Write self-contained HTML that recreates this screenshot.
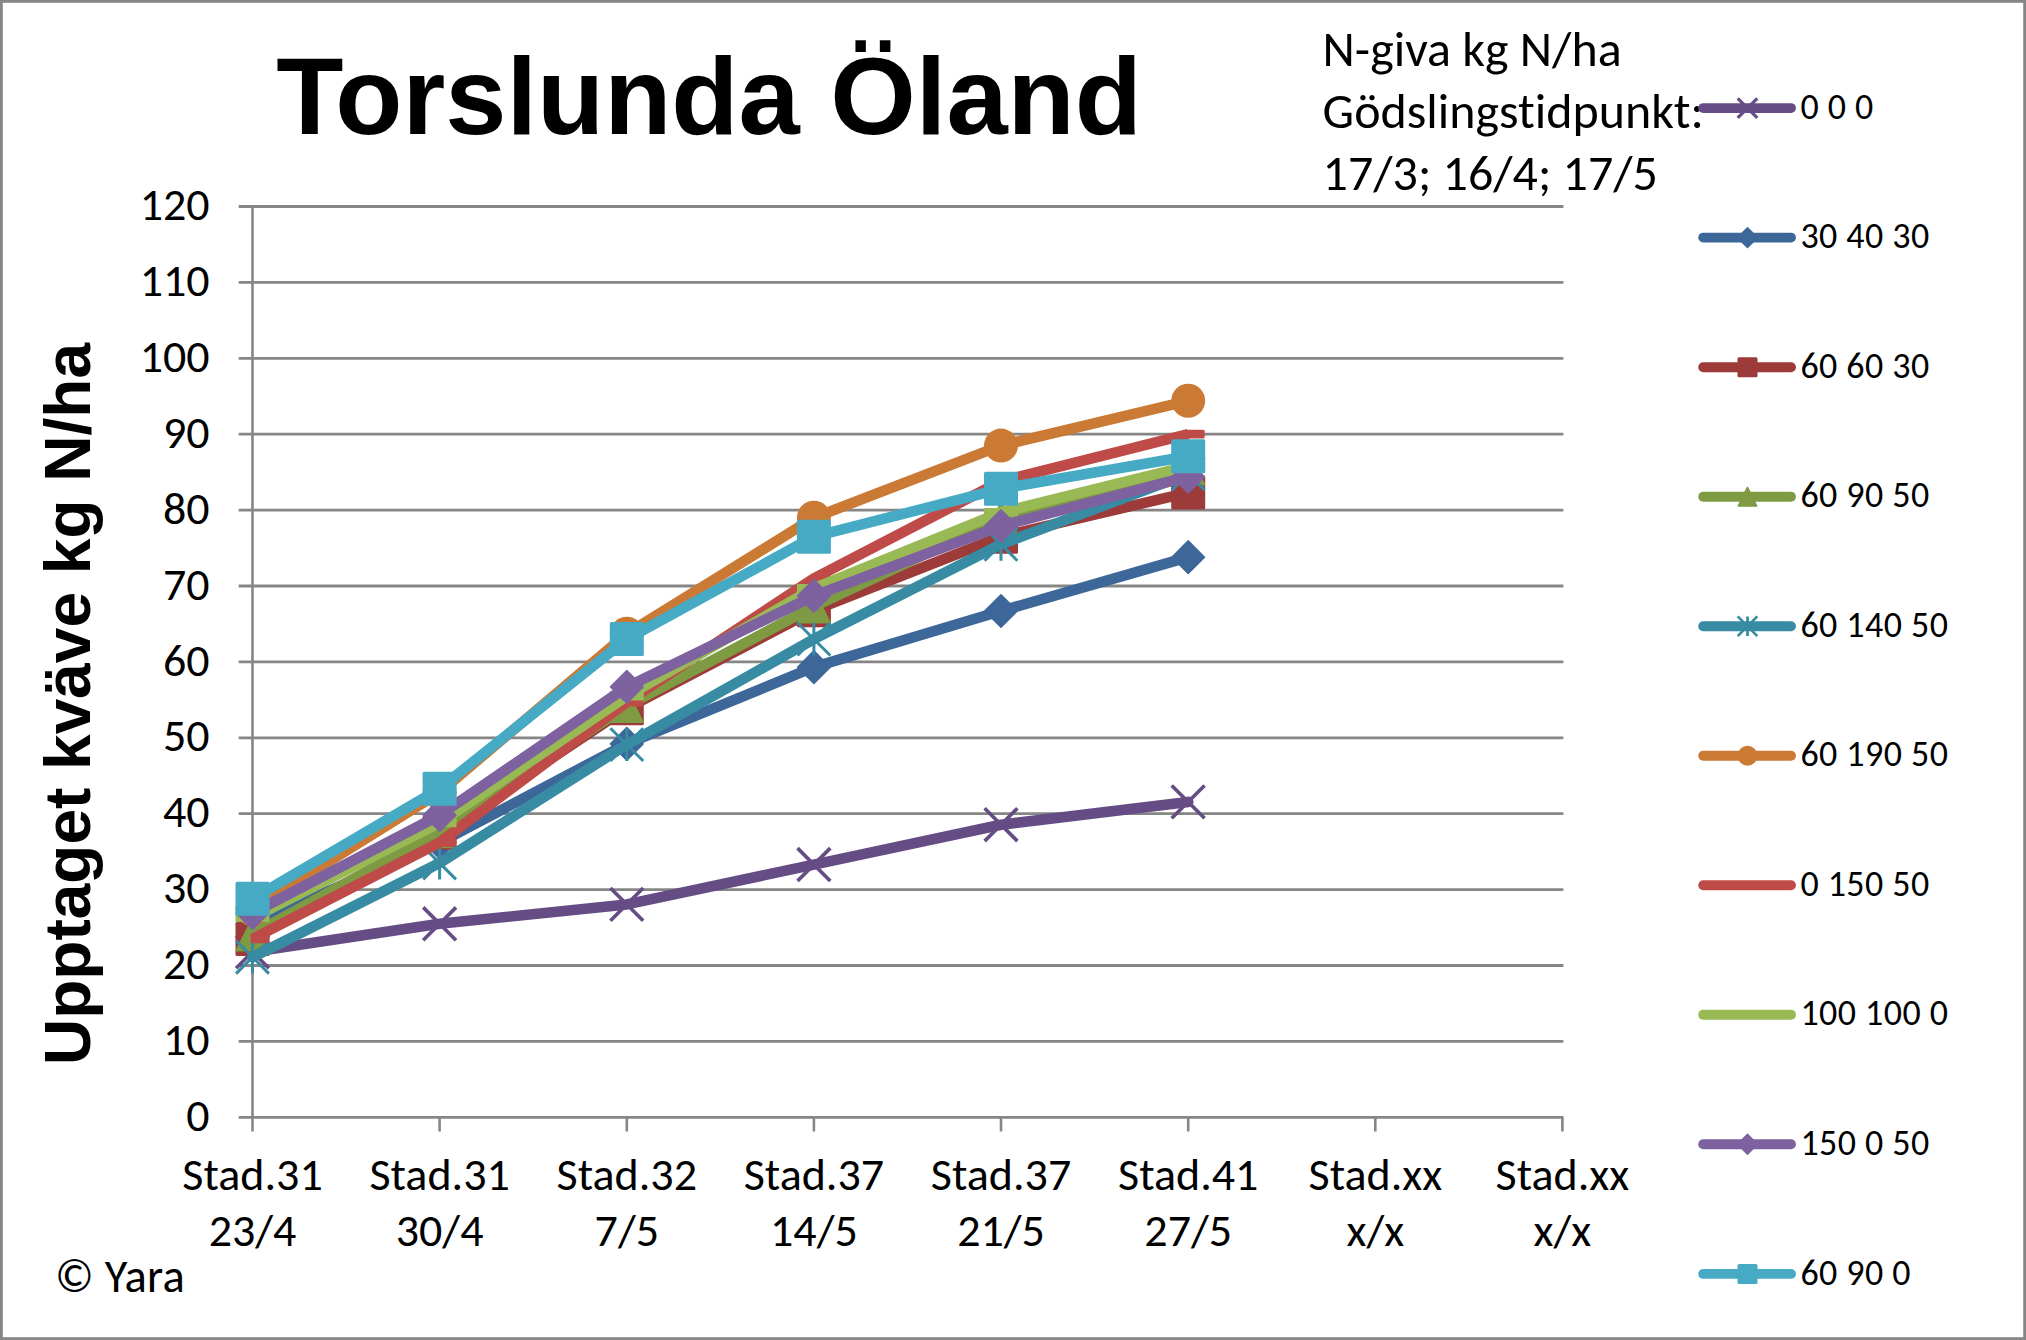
<!DOCTYPE html>
<html lang="sv"><head><meta charset="utf-8"><title>Torslunda Öland</title>
<style>html,body{margin:0;padding:0;background:#fff}body{width:2026px;height:1340px;overflow:hidden}svg{display:block}
.c{font-family:Carlito, "Liberation Sans", sans-serif;font-size-adjust:0.4775;font-variant-ligatures:none;font-kerning:normal;fill:#000}.b{font-family:"Liberation Sans", Arial, sans-serif;font-weight:bold;fill:#000}</style></head><body>
<svg width="2026" height="1340" viewBox="0 0 2026 1340">
<rect x="0" y="0" width="2026" height="1340" fill="#fff"/>
<rect x="1.4" y="1.4" width="2023.2" height="1337.2" fill="none" stroke="#868686" stroke-width="2.8"/>
<g stroke="#868686" stroke-width="2.8" fill="none">
<line x1="238.7" y1="1117.3" x2="1563.4" y2="1117.3"/>
<line x1="238.7" y1="1041.4" x2="1563.4" y2="1041.4"/>
<line x1="238.7" y1="965.5" x2="1563.4" y2="965.5"/>
<line x1="238.7" y1="889.6" x2="1563.4" y2="889.6"/>
<line x1="238.7" y1="813.7" x2="1563.4" y2="813.7"/>
<line x1="238.7" y1="737.8" x2="1563.4" y2="737.8"/>
<line x1="238.7" y1="661.9" x2="1563.4" y2="661.9"/>
<line x1="238.7" y1="586.0" x2="1563.4" y2="586.0"/>
<line x1="238.7" y1="510.1" x2="1563.4" y2="510.1"/>
<line x1="238.7" y1="434.2" x2="1563.4" y2="434.2"/>
<line x1="238.7" y1="358.3" x2="1563.4" y2="358.3"/>
<line x1="238.7" y1="282.4" x2="1563.4" y2="282.4"/>
<line x1="238.7" y1="206.5" x2="1563.4" y2="206.5"/>
</g>
<g stroke="#868686" stroke-width="2.6" fill="none">
<line x1="252.5" y1="206.5" x2="252.5" y2="1131.5"/>
<line x1="439.6" y1="1117.3" x2="439.6" y2="1131.5"/>
<line x1="626.8" y1="1117.3" x2="626.8" y2="1131.5"/>
<line x1="813.9" y1="1117.3" x2="813.9" y2="1131.5"/>
<line x1="1001.0" y1="1117.3" x2="1001.0" y2="1131.5"/>
<line x1="1188.2" y1="1117.3" x2="1188.2" y2="1131.5"/>
<line x1="1375.3" y1="1117.3" x2="1375.3" y2="1131.5"/>
<line x1="1562.4" y1="1117.3" x2="1562.4" y2="1131.5"/>
</g>
<g class="c" font-size="46" text-anchor="end">
<text textLength="23.3" lengthAdjust="spacingAndGlyphs" x="209.6" y="1130.9">0</text>
<text textLength="46.6" lengthAdjust="spacingAndGlyphs" x="209.6" y="1055.0">10</text>
<text textLength="46.6" lengthAdjust="spacingAndGlyphs" x="209.6" y="979.1">20</text>
<text textLength="46.6" lengthAdjust="spacingAndGlyphs" x="209.6" y="903.2">30</text>
<text textLength="46.6" lengthAdjust="spacingAndGlyphs" x="209.6" y="827.3">40</text>
<text textLength="46.6" lengthAdjust="spacingAndGlyphs" x="209.6" y="751.4">50</text>
<text textLength="46.6" lengthAdjust="spacingAndGlyphs" x="209.6" y="675.5">60</text>
<text textLength="46.6" lengthAdjust="spacingAndGlyphs" x="209.6" y="599.6">70</text>
<text textLength="46.6" lengthAdjust="spacingAndGlyphs" x="209.6" y="523.7">80</text>
<text textLength="46.6" lengthAdjust="spacingAndGlyphs" x="209.6" y="447.8">90</text>
<text textLength="69.9" lengthAdjust="spacingAndGlyphs" x="209.6" y="371.9">100</text>
<text textLength="69.9" lengthAdjust="spacingAndGlyphs" x="209.6" y="296.0">110</text>
<text textLength="69.9" lengthAdjust="spacingAndGlyphs" x="209.6" y="220.1">120</text>
</g>
<g class="c" font-size="46" text-anchor="middle">
<text textLength="140.4" lengthAdjust="spacingAndGlyphs" x="252.5" y="1190.2">Stad.31</text><text textLength="87.7" lengthAdjust="spacingAndGlyphs" x="252.5" y="1246">23/4</text>
<text textLength="140.4" lengthAdjust="spacingAndGlyphs" x="439.6" y="1190.2">Stad.31</text><text textLength="87.7" lengthAdjust="spacingAndGlyphs" x="439.6" y="1246">30/4</text>
<text textLength="140.4" lengthAdjust="spacingAndGlyphs" x="626.8" y="1190.2">Stad.32</text><text textLength="64.4" lengthAdjust="spacingAndGlyphs" x="626.8" y="1246">7/5</text>
<text textLength="140.4" lengthAdjust="spacingAndGlyphs" x="813.9" y="1190.2">Stad.37</text><text textLength="87.7" lengthAdjust="spacingAndGlyphs" x="813.9" y="1246">14/5</text>
<text textLength="140.4" lengthAdjust="spacingAndGlyphs" x="1001.0" y="1190.2">Stad.37</text><text textLength="87.7" lengthAdjust="spacingAndGlyphs" x="1001.0" y="1246">21/5</text>
<text textLength="140.4" lengthAdjust="spacingAndGlyphs" x="1188.2" y="1190.2">Stad.41</text><text textLength="87.7" lengthAdjust="spacingAndGlyphs" x="1188.2" y="1246">27/5</text>
<text textLength="133.6" lengthAdjust="spacingAndGlyphs" x="1375.3" y="1190.2">Stad.xx</text><text textLength="57.6" lengthAdjust="spacingAndGlyphs" x="1375.3" y="1246">x/x</text>
<text textLength="133.6" lengthAdjust="spacingAndGlyphs" x="1562.4" y="1190.2">Stad.xx</text><text textLength="57.6" lengthAdjust="spacingAndGlyphs" x="1562.4" y="1246">x/x</text>
</g>
<text class="b" font-size="110" x="276.2" y="133.7">Torslunda Öland</text>
<text class="b" font-size="64" transform="translate(89.8,1065) rotate(-90)">Upptaget kväve kg N/ha</text>
<g class="c" font-size="50"><text textLength="299.0" lengthAdjust="spacingAndGlyphs" x="1322.6" y="66.4">N-giva kg N/ha</text><text textLength="381.3" lengthAdjust="spacingAndGlyphs" x="1322.6" y="128.1">Gödslingstidpunkt:</text><text textLength="335.3" lengthAdjust="spacingAndGlyphs" x="1322.6" y="189.7">17/3; 16/4; 17/5</text></g>
<text textLength="129.9" lengthAdjust="spacingAndGlyphs" class="c" font-size="46.5" x="55" y="1291.7" letter-spacing="0.2">© Yara</text>
<g><polyline points="252.5,951.8 439.6,923.8 626.8,904.4 813.9,864.6 1001.0,824.7 1188.2,801.9" fill="none" stroke="#664C85" stroke-width="10.6" stroke-linejoin="round" stroke-linecap="round"/>
<path d="M236.1 935.4L268.9 968.2M236.1 968.2L268.9 935.4" stroke="#664C85" stroke-width="3.66" fill="none"/>
<path d="M423.2 907.4L456.0 940.2M423.2 940.2L456.0 907.4" stroke="#664C85" stroke-width="3.66" fill="none"/>
<path d="M610.4 888.0L643.2 920.8M610.4 920.8L643.2 888.0" stroke="#664C85" stroke-width="3.66" fill="none"/>
<path d="M797.5 848.1L830.3 881.0M797.5 881.0L830.3 848.1" stroke="#664C85" stroke-width="3.66" fill="none"/>
<path d="M984.6 808.3L1017.4 841.1M984.6 841.1L1017.4 808.3" stroke="#664C85" stroke-width="3.66" fill="none"/>
<path d="M1171.7 785.5L1204.6 818.3M1171.7 818.3L1204.6 785.5" stroke="#664C85" stroke-width="3.66" fill="none"/>
</g>
<g><polyline points="252.5,924.1 439.6,842.5 626.8,743.9 813.9,667.2 1001.0,611.0 1188.2,557.2" fill="none" stroke="#3D6799" stroke-width="10.6" stroke-linejoin="round" stroke-linecap="round"/>
<polygon points="252.5,907.8 268.8,924.1 252.5,940.4 236.2,924.1" fill="#3D6799" stroke="#3D6799" stroke-width="1.5" stroke-linejoin="round"/>
<polygon points="439.6,826.2 455.9,842.5 439.6,858.8 423.3,842.5" fill="#3D6799" stroke="#3D6799" stroke-width="1.5" stroke-linejoin="round"/>
<polygon points="626.8,727.6 643.1,743.9 626.8,760.2 610.5,743.9" fill="#3D6799" stroke="#3D6799" stroke-width="1.5" stroke-linejoin="round"/>
<polygon points="813.9,650.9 830.2,667.2 813.9,683.5 797.6,667.2" fill="#3D6799" stroke="#3D6799" stroke-width="1.5" stroke-linejoin="round"/>
<polygon points="1001.0,594.7 1017.3,611.0 1001.0,627.3 984.7,611.0" fill="#3D6799" stroke="#3D6799" stroke-width="1.5" stroke-linejoin="round"/>
<polygon points="1188.2,540.9 1204.5,557.2 1188.2,573.5 1171.9,557.2" fill="#3D6799" stroke="#3D6799" stroke-width="1.5" stroke-linejoin="round"/>
</g>
<g><polyline points="252.5,938.9 439.6,832.7 626.8,708.2 813.9,610.3 1001.0,536.7 1188.2,492.6" fill="none" stroke="#9C3B39" stroke-width="10.6" stroke-linejoin="round" stroke-linecap="round"/>
<rect x="235.5" y="921.9" width="34.0" height="34.0" rx="1.5" fill="#9C3B39"/>
<rect x="422.6" y="815.7" width="34.0" height="34.0" rx="1.5" fill="#9C3B39"/>
<rect x="609.8" y="691.2" width="34.0" height="34.0" rx="1.5" fill="#9C3B39"/>
<rect x="796.9" y="593.3" width="34.0" height="34.0" rx="1.5" fill="#9C3B39"/>
<rect x="984.0" y="519.7" width="34.0" height="34.0" rx="1.5" fill="#9C3B39"/>
<rect x="1171.2" y="475.6" width="34.0" height="34.0" rx="1.5" fill="#9C3B39"/>
</g>
<g><polyline points="252.5,934.4 439.6,831.2 626.8,705.9 813.9,606.5 1001.0,518.4 1188.2,468.4" fill="none" stroke="#7E9A43" stroke-width="10.6" stroke-linejoin="round" stroke-linecap="round"/>
<polygon points="252.5,918.1 268.8,950.7 236.2,950.7" fill="#7E9A43" stroke="#7E9A43" stroke-width="1.5" stroke-linejoin="round"/>
<polygon points="439.6,814.9 455.9,847.5 423.3,847.5" fill="#7E9A43" stroke="#7E9A43" stroke-width="1.5" stroke-linejoin="round"/>
<polygon points="626.8,689.6 643.1,722.2 610.5,722.2" fill="#7E9A43" stroke="#7E9A43" stroke-width="1.5" stroke-linejoin="round"/>
<polygon points="813.9,590.2 830.2,622.8 797.6,622.8" fill="#7E9A43" stroke="#7E9A43" stroke-width="1.5" stroke-linejoin="round"/>
<polygon points="1001.0,502.1 1017.3,534.7 984.7,534.7" fill="#7E9A43" stroke="#7E9A43" stroke-width="1.5" stroke-linejoin="round"/>
<polygon points="1188.2,452.1 1204.5,484.7 1171.9,484.7" fill="#7E9A43" stroke="#7E9A43" stroke-width="1.5" stroke-linejoin="round"/>
</g>
<g><polyline points="252.5,957.2 439.6,863.0 626.8,744.6 813.9,639.1 1001.0,544.3 1188.2,473.7" fill="none" stroke="#378BA2" stroke-width="10.6" stroke-linejoin="round" stroke-linecap="round"/>
<path d="M236.1 940.7L268.9 973.6M236.1 973.6L268.9 940.7M252.5 940.7L252.5 973.6" stroke="#378BA2" stroke-width="3.0" fill="none"/>
<path d="M423.2 846.6L456.0 879.4M423.2 879.4L456.0 846.6M439.6 846.6L439.6 879.4" stroke="#378BA2" stroke-width="3.0" fill="none"/>
<path d="M610.4 728.2L643.2 761.0M610.4 761.0L643.2 728.2M626.8 728.2L626.8 761.0" stroke="#378BA2" stroke-width="3.0" fill="none"/>
<path d="M797.5 622.7L830.3 655.5M797.5 655.5L830.3 622.7M813.9 622.7L813.9 655.5" stroke="#378BA2" stroke-width="3.0" fill="none"/>
<path d="M984.6 527.9L1017.4 560.7M984.6 560.7L1017.4 527.9M1001.0 527.9L1001.0 560.7" stroke="#378BA2" stroke-width="3.0" fill="none"/>
<path d="M1171.7 457.3L1204.6 490.1M1171.7 490.1L1204.6 457.3M1188.2 457.3L1188.2 490.1" stroke="#378BA2" stroke-width="3.0" fill="none"/>
</g>
<g><polyline points="252.5,909.3 439.6,792.4 626.8,633.8 813.9,517.7 1001.0,445.6 1188.2,400.8" fill="none" stroke="#CA7A35" stroke-width="10.6" stroke-linejoin="round" stroke-linecap="round"/>
<circle cx="252.5" cy="909.3" r="17.0" fill="#CA7A35"/>
<circle cx="439.6" cy="792.4" r="17.0" fill="#CA7A35"/>
<circle cx="626.8" cy="633.8" r="17.0" fill="#CA7A35"/>
<circle cx="813.9" cy="517.7" r="17.0" fill="#CA7A35"/>
<circle cx="1001.0" cy="445.6" r="17.0" fill="#CA7A35"/>
<circle cx="1188.2" cy="400.8" r="17.0" fill="#CA7A35"/>
</g>
<g><polyline points="252.5,938.9 439.6,842.5 626.8,702.1 813.9,578.4 1001.0,481.3 1188.2,434.2" fill="none" stroke="#BE4B48" stroke-width="10.6" stroke-linejoin="round" stroke-linecap="butt"/>
<rect x="250.6" y="934.5" width="18.5" height="8.8" rx="1.5" fill="#BE4B48"/>
<rect x="437.7" y="838.1" width="18.5" height="8.8" rx="1.5" fill="#BE4B48"/>
<rect x="624.9" y="697.7" width="18.5" height="8.8" rx="1.5" fill="#BE4B48"/>
<rect x="812.0" y="574.0" width="18.5" height="8.8" rx="1.5" fill="#BE4B48"/>
<rect x="999.1" y="476.8" width="18.5" height="8.8" rx="1.5" fill="#BE4B48"/>
<rect x="1186.2" y="429.8" width="18.5" height="8.8" rx="1.5" fill="#BE4B48"/>
</g>
<g><polyline points="252.5,917.7 439.6,822.8 626.8,696.1 813.9,588.3 1001.0,512.4 1188.2,466.1" fill="none" stroke="#98B954" stroke-width="10.6" stroke-linejoin="round" stroke-linecap="round"/>
<rect x="235.5" y="913.3" width="34.0" height="8.8" rx="1" fill="#98B954"/>
<rect x="422.6" y="818.4" width="34.0" height="8.8" rx="1" fill="#98B954"/>
<rect x="609.8" y="691.6" width="34.0" height="8.8" rx="1" fill="#98B954"/>
<rect x="796.9" y="583.9" width="34.0" height="8.8" rx="1" fill="#98B954"/>
<rect x="984.0" y="508.0" width="34.0" height="8.8" rx="1" fill="#98B954"/>
<rect x="1171.2" y="461.7" width="34.0" height="8.8" rx="1" fill="#98B954"/>
</g>
<g><polyline points="252.5,913.1 439.6,815.2 626.8,686.9 813.9,595.9 1001.0,526.0 1188.2,476.7" fill="none" stroke="#7E62A0" stroke-width="10.6" stroke-linejoin="round" stroke-linecap="round"/>
<polygon points="252.5,896.8 268.8,913.1 252.5,929.4 236.2,913.1" fill="#7E62A0" stroke="#7E62A0" stroke-width="1.5" stroke-linejoin="round"/>
<polygon points="439.6,798.9 455.9,815.2 439.6,831.5 423.3,815.2" fill="#7E62A0" stroke="#7E62A0" stroke-width="1.5" stroke-linejoin="round"/>
<polygon points="626.8,670.6 643.1,686.9 626.8,703.2 610.5,686.9" fill="#7E62A0" stroke="#7E62A0" stroke-width="1.5" stroke-linejoin="round"/>
<polygon points="813.9,579.6 830.2,595.9 813.9,612.2 797.6,595.9" fill="#7E62A0" stroke="#7E62A0" stroke-width="1.5" stroke-linejoin="round"/>
<polygon points="1001.0,509.7 1017.3,526.0 1001.0,542.3 984.7,526.0" fill="#7E62A0" stroke="#7E62A0" stroke-width="1.5" stroke-linejoin="round"/>
<polygon points="1188.2,460.4 1204.5,476.7 1188.2,493.0 1171.9,476.7" fill="#7E62A0" stroke="#7E62A0" stroke-width="1.5" stroke-linejoin="round"/>
</g>
<g><polyline points="252.5,898.7 439.6,788.7 626.8,639.1 813.9,536.7 1001.0,488.8 1188.2,456.2" fill="none" stroke="#47AAC4" stroke-width="10.6" stroke-linejoin="round" stroke-linecap="round"/>
<rect x="235.5" y="881.7" width="34.0" height="34.0" rx="1.5" fill="#47AAC4"/>
<rect x="422.6" y="771.7" width="34.0" height="34.0" rx="1.5" fill="#47AAC4"/>
<rect x="609.8" y="622.1" width="34.0" height="34.0" rx="1.5" fill="#47AAC4"/>
<rect x="796.9" y="519.7" width="34.0" height="34.0" rx="1.5" fill="#47AAC4"/>
<rect x="984.0" y="471.8" width="34.0" height="34.0" rx="1.5" fill="#47AAC4"/>
<rect x="1171.2" y="439.2" width="34.0" height="34.0" rx="1.5" fill="#47AAC4"/>
</g>
<g class="c" font-size="36" letter-spacing="0.45">
<line x1="1703.2" y1="108.1" x2="1791" y2="108.1" stroke="#664C85" stroke-width="9.9" stroke-linecap="round"/>
<path d="M1737.7 98.3L1757.3 117.9M1737.7 117.9L1757.3 98.3" stroke="#664C85" stroke-width="3.294" fill="none"/>
<text textLength="73.2" lengthAdjust="spacingAndGlyphs" x="1800.4" y="118.7">0 0 0</text>
<line x1="1703.2" y1="237.6" x2="1791" y2="237.6" stroke="#3D6799" stroke-width="9.9" stroke-linecap="round"/>
<polygon points="1747.5,227.7 1757.4,237.6 1747.5,247.5 1737.6,237.6" fill="#3D6799" stroke="#3D6799" stroke-width="1.5" stroke-linejoin="round"/>
<text textLength="129.3" lengthAdjust="spacingAndGlyphs" x="1800.4" y="248.2">30 40 30</text>
<line x1="1703.2" y1="367.2" x2="1791" y2="367.2" stroke="#9C3B39" stroke-width="9.9" stroke-linecap="round"/>
<rect x="1737.5" y="357.2" width="20.0" height="20.0" rx="1.5" fill="#9C3B39"/>
<text textLength="129.3" lengthAdjust="spacingAndGlyphs" x="1800.4" y="377.8">60 60 30</text>
<line x1="1703.2" y1="496.7" x2="1791" y2="496.7" stroke="#7E9A43" stroke-width="9.9" stroke-linecap="round"/>
<polygon points="1747.5,487.4 1756.8,506.0 1738.2,506.0" fill="#7E9A43" stroke="#7E9A43" stroke-width="1.5" stroke-linejoin="round"/>
<text textLength="129.3" lengthAdjust="spacingAndGlyphs" x="1800.4" y="507.3">60 90 50</text>
<line x1="1703.2" y1="626.2" x2="1791" y2="626.2" stroke="#378BA2" stroke-width="9.9" stroke-linecap="round"/>
<path d="M1737.7 616.4L1757.3 636.1M1737.7 636.1L1757.3 616.4M1747.5 616.4L1747.5 636.1" stroke="#378BA2" stroke-width="2.7" fill="none"/>
<text textLength="148.0" lengthAdjust="spacingAndGlyphs" x="1800.4" y="636.8">60 140 50</text>
<line x1="1703.2" y1="755.8" x2="1791" y2="755.8" stroke="#CA7A35" stroke-width="9.9" stroke-linecap="round"/>
<circle cx="1747.5" cy="755.8" r="10.0" fill="#CA7A35"/>
<text textLength="148.0" lengthAdjust="spacingAndGlyphs" x="1800.4" y="766.4">60 190 50</text>
<line x1="1703.2" y1="885.3" x2="1791" y2="885.3" stroke="#BE4B48" stroke-width="9.9" stroke-linecap="round"/>
<text textLength="129.3" lengthAdjust="spacingAndGlyphs" x="1800.4" y="895.9">0 150 50</text>
<line x1="1703.2" y1="1014.8" x2="1791" y2="1014.8" stroke="#98B954" stroke-width="9.9" stroke-linecap="round"/>
<text textLength="148.0" lengthAdjust="spacingAndGlyphs" x="1800.4" y="1025.4">100 100 0</text>
<line x1="1703.2" y1="1144.3" x2="1791" y2="1144.3" stroke="#7E62A0" stroke-width="9.9" stroke-linecap="round"/>
<polygon points="1747.5,1134.4 1757.4,1144.3 1747.5,1154.2 1737.6,1144.3" fill="#7E62A0" stroke="#7E62A0" stroke-width="1.5" stroke-linejoin="round"/>
<text textLength="129.3" lengthAdjust="spacingAndGlyphs" x="1800.4" y="1154.9">150 0 50</text>
<line x1="1703.2" y1="1273.9" x2="1791" y2="1273.9" stroke="#47AAC4" stroke-width="9.9" stroke-linecap="round"/>
<rect x="1737.5" y="1263.9" width="20.0" height="20.0" rx="1.5" fill="#47AAC4"/>
<text textLength="110.6" lengthAdjust="spacingAndGlyphs" x="1800.4" y="1284.5">60 90 0</text>
</g>
</svg></body></html>
